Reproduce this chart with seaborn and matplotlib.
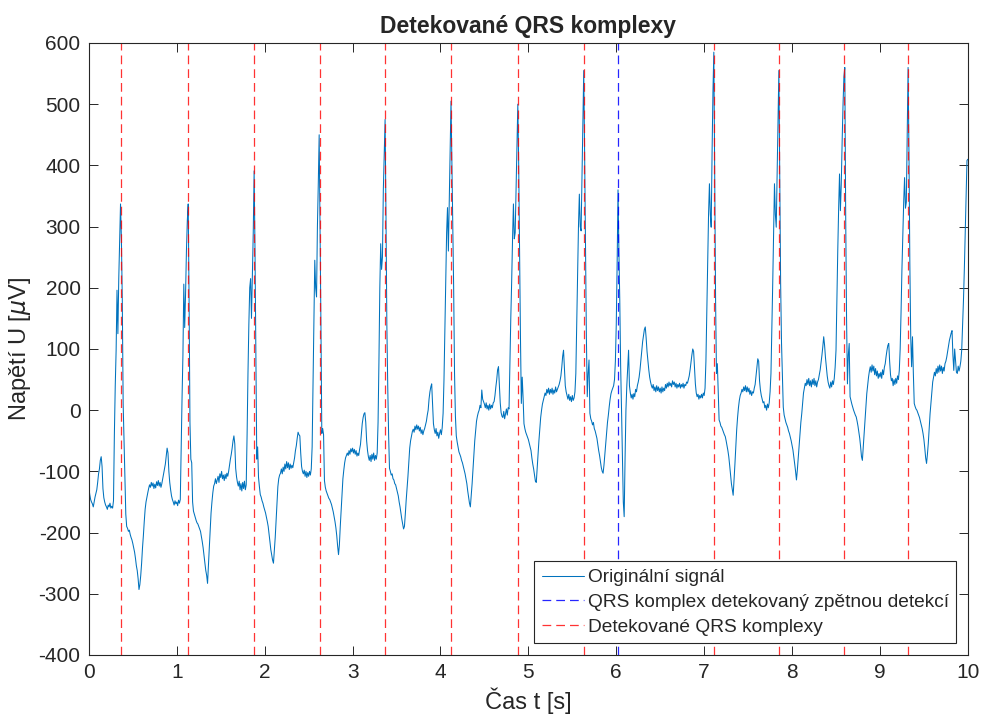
import matplotlib
matplotlib.use("Agg")
import matplotlib.pyplot as plt
import numpy as np
import pandas as pd
import seaborn as sns

# ECG trace sampled at 100 Hz, voltage in uV (one row = 0.1 s)
fs_hz = 100
u_uV = [
    # 0 s
    -128, -138, -146, -150, -153, -158, -150, -142, -136, -130,
    -118, -104, -96, -82, -76, -92, -128, -143, -150, -155,
    -158, -162, -155, -158, -152, -160, -157, -160, -148, -40,
    40, 98, 196, 125, 215, 275, 337, 280, 180, 10,
    -50, -110, -170, -190, -193, -198, -196, -203, -208, -212,
    -218, -225, -232, -242, -254, -262, -275, -293, -285, -270,
    -250, -225, -205, -182, -162, -150, -142, -135, -128, -122,
    -126, -118, -124, -119, -128, -121, -127, -117, -123, -115,
    -124, -118, -126, -120, -112, -104, -96, -88, -75, -62,
    -70, -100, -118, -130, -140, -146, -150, -155, -148, -153,
    # 1 s
    -150, -156, -147, -152, -146, -60, 20, 90, 206, 135,
    190, 261, 310, 337, 180, -20, -80, -86, -150, -165,
    -170, -175, -180, -184, -186, -190, -194, -198, -206, -215,
    -225, -238, -250, -262, -270, -283, -255, -225, -195, -168,
    -150, -135, -124, -120, -112, -120, -114, -108, -118, -104,
    -110, -100, -112, -106, -115, -105, -112, -103, -108, -100,
    -90, -80, -72, -62, -50, -42, -55, -95, -109, -118,
    -124, -116, -130, -120, -132, -118, -128, -116, -130, -122,
    -40, 60, 140, 200, 215, 150, 220, 290, 391, 260,
    98, -80, -60, -110, -125, -138, -142, -148, -152, -158,
    # 2 s
    -163, -168, -175, -182, -190, -202, -215, -228, -236, -245,
    -250, -230, -208, -180, -150, -125, -112, -106, -103, -96,
    -104, -93, -100, -88, -96, -84, -94, -86, -97, -88,
    -95, -90, -94, -86, -78, -66, -58, -46, -36, -40,
    -42, -70, -92, -100, -104, -98, -108, -100, -110, -102,
    -108, -100, -106, -96, -60, 40, 140, 245, 200, 185,
    300, 370, 450, 300, 140, -38, -30, -40, -115, -126,
    -132, -136, -140, -144, -146, -150, -154, -160, -166, -174,
    -182, -192, -205, -222, -236, -220, -190, -165, -138, -112,
    -98, -86, -78, -74, -70, -74, -66, -72, -63, -68,
    # 3 s
    -62, -70, -64, -72, -66, -75, -70, -74, -64, -56,
    -40, -22, -12, -6, -4, -20, -50, -66, -76, -82,
    -74, -84, -72, -80, -70, -82, -74, -80, -70, -20,
    80, 200, 272, 230, 250, 360, 420, 475, 320, 140,
    40, -40, -95, -100, -106, -104, -112, -114, -120, -122,
    -128, -134, -140, -150, -158, -168, -178, -186, -194, -190,
    -170, -147, -128, -108, -86, -62, -50, -42, -35, -31,
    -36, -26, -32, -24, -31, -26, -34, -28, -38, -32,
    -40, -34, -30, -24, -18, -8, 0, 18, 30, 38,
    43, 10, -22, -32, -38, -30, -42, -36, -46, -38,
    # 4 s
    -32, -40, -28, -5, 50, 130, 200, 290, 331, 260,
    340, 420, 505, 400, 300, 200, 60, -10, -42, -52,
    -60, -68, -72, -76, -82, -86, -92, -98, -104, -112,
    -120, -132, -142, -152, -158, -140, -120, -96, -70, -50,
    -34, -18, -10, -4, 0, 8, 4, 33, 18, 14,
    10, 4, 12, 2, 8, 0, 10, 2, 8, 4,
    12, 14, 24, 38, 50, 66, 71, 40, 12, -4,
    -10, -12, -2, -14, -6, 2, -8, 4, 2, 80,
    150, 210, 280, 337, 280, 290, 359, 420, 500, 400,
    260, 120, 11, 54, 20, -22, -30, -36, -40, -44,
    # 5 s
    -48, -54, -60, -66, -78, -88, -96, -106, -116, -118,
    -95, -70, -50, -30, -12, 0, 10, 16, 22, 28,
    24, 34, 28, 36, 26, 34, 28, 36, 26, 33,
    28, 38, 30, 34, 38, 42, 48, 56, 70, 88,
    98, 70, 40, 30, 24, 18, 26, 16, 22, 14,
    24, 16, 20, 30, 60, 140, 220, 300, 353, 300,
    293, 380, 470, 555, 420, 260, 120, 22, 60, 82,
    -5, -14, -18, -24, -20, -30, -34, -40, -46, -56,
    -66, -74, -84, -94, -100, -103, -90, -72, -56, -38,
    -20, -8, 6, 18, 27, 32, 36, 40, 50, 80,
    # 6 s
    140, 240, 360, 260, 179, 71, 0, -80, -150, -174,
    -80, 0, 40, 70, 98, 40, 28, 20, 26, 18,
    27, 22, 34, 30, 40, 46, 54, 66, 82, 98,
    112, 122, 132, 136, 118, 96, 80, 66, 54, 46,
    40, 36, 42, 32, 38, 30, 40, 32, 38, 30,
    36, 28, 38, 30, 36, 32, 42, 36, 44, 38,
    46, 40, 44, 38, 48, 42, 46, 38, 44, 36,
    42, 38, 44, 36, 42, 38, 44, 36, 42, 40,
    46, 44, 50, 56, 66, 78, 90, 100, 96, 70,
    43, 28, 22, 26, 18, 24, 20, 26, 20, 28,
    # 7 s
    24, 36, 80, 160, 250, 320, 370, 320, 299, 420,
    520, 585, 380, 179, 60, 76, 30, -16, -20, -26,
    -28, -32, -36, -40, -43, -50, -58, -66, -76, -90,
    -106, -120, -130, -139, -115, -88, -60, -32, -12, 4,
    16, 24, 28, 34, 30, 38, 32, 40, 30, 38,
    30, 36, 26, 32, 24, 30, 28, 36, 42, 56,
    70, 84, 80, 48, 33, 24, 18, 12, 14, 4,
    8, 0, 10, 4, 12, 30, 60, 130, 207, 290,
    370, 320, 299, 390, 470, 555, 380, 207, 110, 60,
    5, -8, -14, -20, -24, -28, -34, -38, -44, -50,
    # 8 s
    -58, -65, -76, -88, -100, -114, -98, -78, -58, -38,
    -20, -6, 12, 28, 36, 44, 40, 50, 42, 52,
    40, 48, 38, 50, 42, 52, 40, 48, 38, 46,
    50, 58, 66, 78, 90, 104, 120, 106, 86, 70,
    56, 46, 40, 36, 46, 38, 48, 42, 52, 70,
    98, 180, 261, 330, 386, 326, 370, 440, 500, 545,
    560, 320, 150, 43, 90, 109, 22, 16, 10, 5,
    0, -4, -8, -11, -18, -26, -36, -46, -60, -76,
    -82, -60, -38, -14, 8, 27, 40, 54, 64, 71,
    62, 74, 64, 72, 58, 68, 56, 64, 52, 60,
    # 9 s
    54, 62, 52, 66, 58, 70, 76, 88, 98, 106,
    109, 80, 58, 48, 52, 40, 50, 42, 52, 44,
    56, 50, 65, 100, 160, 230, 288, 340, 380, 330,
    340, 450, 560, 420, 240, 120, 71, 120, 60, 11,
    6, 2, 0, -4, -8, -12, -18, -24, -30, -38,
    -48, -62, -78, -87, -72, -54, -30, -6, 11, 30,
    46, 54, 62, 56, 68, 60, 72, 62, 74, 64,
    72, 60, 70, 64, 76, 80, 87, 96, 104, 114,
    120, 126, 130, 90, 65, 100, 80, 62, 60, 72,
    64, 71, 80, 98, 140, 179, 230, 288, 350, 408,
    # 10 s
    410,
]
t_s = np.arange(len(u_uV)) / fs_hz

# Detected QRS complexes and the one found by the search-back step
qrs_t = [0.362, 1.126, 1.884, 2.624, 3.372, 4.122, 4.885, 5.634, 7.107, 7.849, 8.596, 9.323]
qrs_back_t = [6.020]

x_ticks = list(range(0, 11))
y_ticks = list(range(-400, 601, 100))

sns.set_theme(style="white")
plt.rcParams["font.family"] = ["Liberation Sans", "DejaVu Sans"]
plt.rcParams["axes.unicode_minus"] = False
plt.rcParams["axes.edgecolor"] = "#262626"
plt.rcParams["xtick.color"] = "#262626"
plt.rcParams["ytick.color"] = "#262626"

fig = plt.figure(figsize=(9.81, 7.2), dpi=100)
ax = fig.add_axes([0.0906, 0.0903, 0.896, 0.850])

ecg = pd.DataFrame({"t": t_s, "u": u_uV})
sns.lineplot(data=ecg, x="t", y="u", ax=ax, color="#0072BD", linewidth=0.75,
             sort=False, estimator=None, label="Originální signál")

ax.vlines(qrs_back_t, -400, 600, colors="#0000FF", linestyles=[(0, (7, 4))],
          linewidth=0.9, alpha=0.85, label="QRS komplex detekovaný zpětnou detekcí")
ax.vlines(qrs_t, -400, 600, colors="#FF0000", linestyles=[(0, (7, 4))],
          linewidth=0.9, alpha=0.8, label="Detekované QRS komplexy")

ax.set_xlim(0, 10)
ax.set_ylim(-400, 600)
ax.set_xticks(x_ticks)
ax.set_yticks(y_ticks)
ax.tick_params(direction="in", length=6.5, width=0.7, labelsize=15,
               top=True, right=True, bottom=True, left=True, pad=6)
for side in ax.spines.values():
    side.set_linewidth(0.8)

ax.set_title("Detekované QRS komplexy", fontsize=16.5, fontweight="bold", pad=7)
ax.set_xlabel("Čas t [s]", fontsize=17, labelpad=4)
ax.set_ylabel(r"Napětí U [$\mu$V]", fontsize=17, labelpad=4)

leg = ax.legend(loc="lower right", fontsize=13.8, frameon=True, fancybox=False,
                edgecolor="#262626", framealpha=1, handlelength=2.2,
                borderaxespad=0.6, labelspacing=0.38, handletextpad=0.2,
                borderpad=0.4)
leg.get_frame().set_linewidth(0.8)

fig.savefig("out.png", dpi=100)
